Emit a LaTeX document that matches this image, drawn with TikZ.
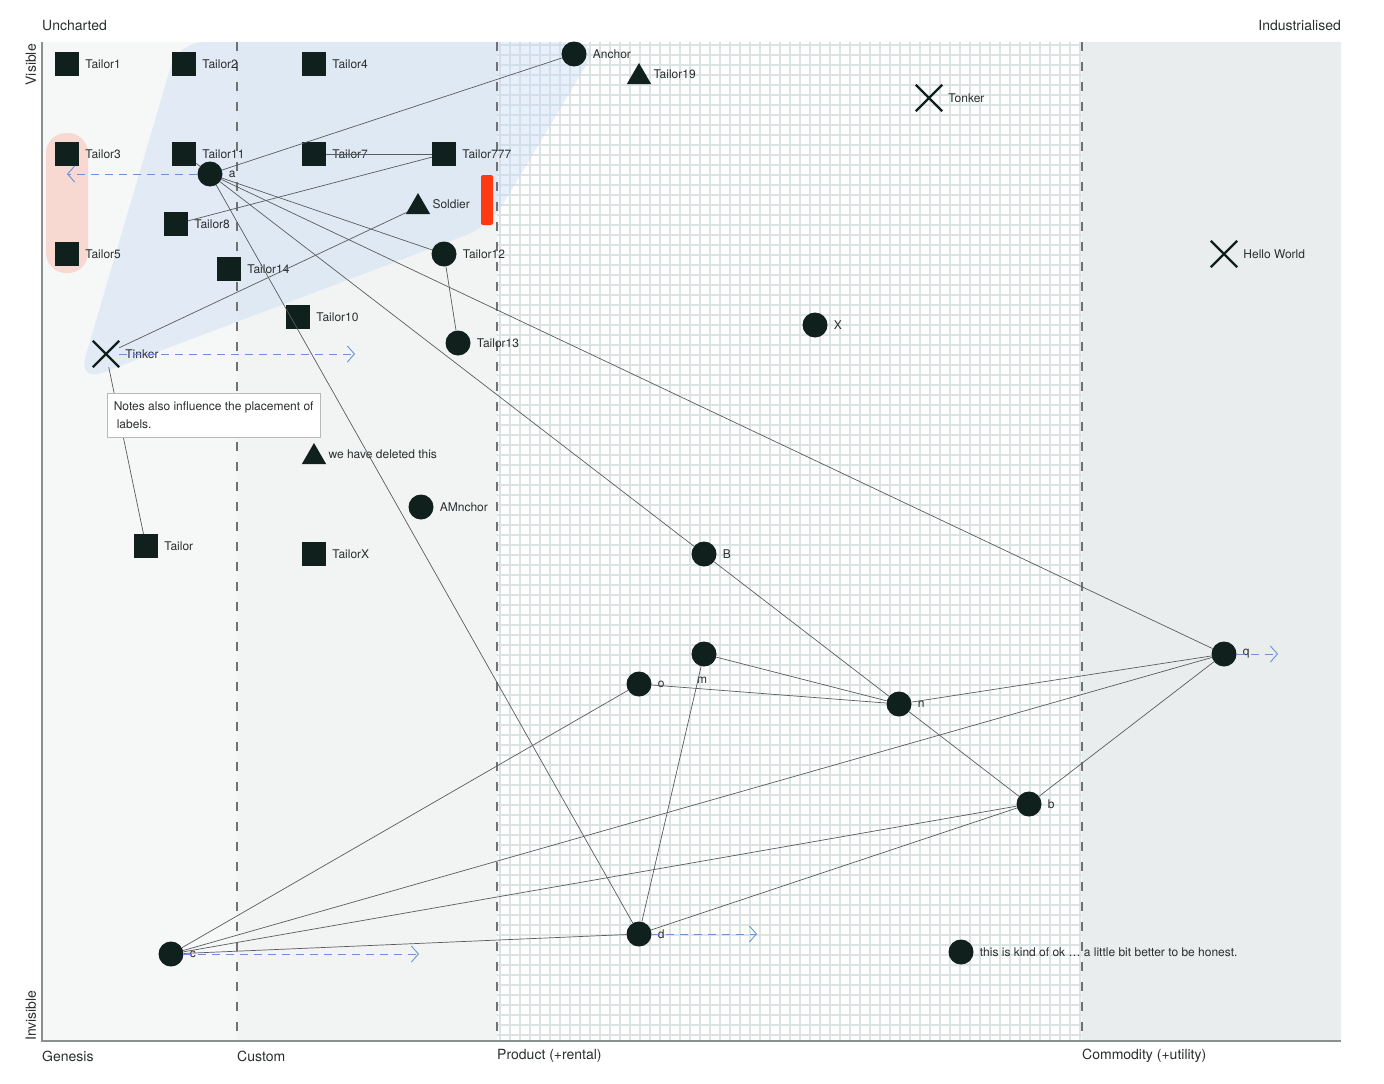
\documentclass[tikz,border=0pt]{standalone}
\usepackage{fontspec}
\setmainfont{TeX Gyre Heros}
\usepackage{xcolor}
\usetikzlibrary{shapes.geometric,shapes.misc,arrows.meta,positioning}

\definecolor{ink}{HTML}{10201C}
\definecolor{txt}{HTML}{2A2E2E}
\definecolor{axis}{HTML}{8A8F8F}
\definecolor{stage}{HTML}{6E7272}
\definecolor{link}{HTML}{585C5C}
\definecolor{evo}{HTML}{6A92D6}
\definecolor{gen}{HTML}{F6F7F7}
\definecolor{cus}{HTML}{F2F4F4}
\definecolor{prodgrid}{HTML}{DCE3E3}
\definecolor{com}{HTML}{EAEDED}
\definecolor{pipe}{HTML}{C6DAF4}
\definecolor{hilite}{HTML}{F9C5B8}
\definecolor{bar}{HTML}{FF3A12}

\begin{document}
\begin{tikzpicture}[x=1pt,y=-1pt,label distance=6pt]
  \tikzset{ sq/.style={rectangle,fill=ink,inner sep=0pt,minimum size=24},
    dot/.style={circle,fill=ink,inner sep=0pt,minimum size=25},
    tri/.style={regular polygon,regular polygon sides=3,fill=ink,inner sep=0pt,minimum size=28},
    crs/.style={cross out,draw=ink,line width=2.4pt,inner sep=0pt,minimum size=24},
    lbl/.style={font=\fontsize{12}{14}\selectfont,text=txt,inner sep=0pt},
    axlbl/.style={font=\fontsize{14}{16}\selectfont,text=txt,inner sep=0pt},
    lnk/.style={draw=link,line width=0.7pt},
    evolve/.style={draw=evo,line width=0.9pt,dash pattern=on 8pt off 6pt,
      -{Straight Barb[length=7pt,width=16pt]}},
  }
  \useasboundingbox (0,0) rectangle (1384,1084);

  % the four stages
  \fill[gen] (42,42) rectangle (237,1041);
  \fill[cus] (237,42) rectangle (497,1041);
  \fill[white] (497,42) rectangle (1082,1041);
  \foreach \gx in {500,510,...,1080} \draw[prodgrid,line width=2.2pt] (\gx,42) -- (\gx,1041);
  \foreach \gy in {45,55,...,1040} \draw[prodgrid,line width=2.2pt] (497,\gy) -- (1082,\gy);
  \fill[com] (1082,42) rectangle (1341,1041);

  % pipeline and highlight
  \fill[pipe,opacity=0.42,rounded corners=26] (178,42) -- (600,42) -- (490,226) -- (78,382) -- cycle;
  \fill[hilite,opacity=0.6,rounded corners=20] (46,133) rectangle (88,273);

  \draw[stage,line width=2pt,dash pattern=on 9pt off 11pt] (237,42) -- (237,1041);
  \draw[stage,line width=2pt,dash pattern=on 9pt off 11pt] (497,42) -- (497,1041);
  \draw[stage,line width=2pt,dash pattern=on 9pt off 11pt] (1082,42) -- (1082,1041);
  \draw[axis,line width=2pt] (42,42) -- (42,1041) -- (1341,1041);

  \node[axlbl,anchor=west] (uncharted) at (42,26) {Uncharted};
  \node[axlbl,anchor=east] (industrialised) at (1341,26) {Industrialised};
  \node[axlbl,anchor=east,rotate=90] (visible) at (31,44) {Visible};
  \node[axlbl,anchor=west,rotate=90] (invisible) at (31,1041) {Invisible};
  \node[axlbl,anchor=west] (genesis) at (42,1056) {Genesis};
  \node[axlbl,anchor=west] (custom) at (237,1056) {Custom};
  \node[axlbl,anchor=west] (product) at (497,1056) {Product (+rental)};
  \node[axlbl,anchor=west] (commodity) at (1082,1056) {Commodity (+utility)};

  \node[rectangle,fill=bar,rounded corners=2pt,minimum width=12,minimum height=50] (redbar) at (487,200) {};

  \node[sq,label={[lbl]right:Tailor1}] (tailor1) at (67,64) {};
  \node[sq,label={[lbl]right:Tailor2}] (tailor2) at (184,64) {};
  \node[sq,label={[lbl]right:Tailor4}] (tailor4) at (314,64) {};
  \node[sq,label={[lbl]right:Tailor3}] (tailor3) at (67,154) {};
  \node[sq,label={[lbl]right:Tailor11}] (tailor11) at (184,154) {};
  \node[sq,label={[lbl]right:Tailor7}] (tailor7) at (314,154) {};
  \node[sq,label={[lbl]right:Tailor777}] (tailor777) at (444,154) {};
  \node[sq,label={[lbl]right:Tailor8}] (tailor8) at (176,224) {};
  \node[sq,label={[lbl]right:Tailor5}] (tailor5) at (67,254) {};
  \node[sq,label={[lbl]right:Tailor14}] (tailor14) at (229,269) {};
  \node[sq,label={[lbl]right:Tailor10}] (tailor10) at (298,317) {};
  \node[sq,label={[lbl]right:Tailor}] (tailor) at (146,546) {};
  \node[sq,label={[lbl]right:TailorX}] (tailorx) at (314,554) {};

  \node[dot,label={[lbl]right:Anchor}] (anchor) at (574,54) {};
  \node[dot,label={[lbl]right:a}] (a) at (210,174) {};
  \node[dot,label={[lbl]right:Tailor12}] (tailor12) at (444,254) {};
  \node[dot,label={[lbl]right:Tailor13}] (tailor13) at (458,343) {};
  \node[dot,label={[lbl]right:X}] (x) at (815,325) {};
  \node[dot,label={[lbl]right:AMnchor}] (amnchor) at (421,507) {};
  \node[dot,label={[lbl]right:B}] (B) at (704,554) {};
  \node[dot,label={[lbl,yshift=-4pt,xshift=-2pt]below:m}] (m) at (704,654) {};
  \node[dot,label={[lbl]right:o}] (o) at (639,684) {};
  \node[dot,label={[lbl]right:n}] (n) at (899,704) {};
  \node[dot,label={[lbl]right:b}] (b) at (1029,804) {};
  \node[dot,label={[lbl]right:q}] (q) at (1224,654) {};
  \node[dot,label={[lbl]right:d}] (d) at (639,934) {};
  \node[dot,label={[lbl]right:c}] (c) at (171,954) {};
  \node[dot,label={[lbl]right:this is kind of ok … a little bit better to be honest.}] (ok) at (961,952) {};

  \node[tri,label={[lbl,yshift=3pt]right:Tailor19}] (tailor19) at (639,77) {};
  \node[tri,label={[lbl,yshift=3pt]right:Soldier}] (soldier) at (418,207) {};
  \node[tri,label={[lbl,yshift=3pt]right:we have deleted this}] (deleted) at (314,457) {};

  \node[crs,label={[lbl]right:Tonker}] (tonker) at (929,98) {};
  \node[crs,label={[lbl]right:Hello World}] (hello) at (1224,254) {};
  \node[crs,label={[lbl]right:Tinker}] (tinker) at (106,354) {};

  % dependencies
  \draw[lnk] (a) -- (anchor);
  \draw[lnk] (a) -- (tailor11);
  \draw[lnk] (a) -- (tailor12);
  \draw[lnk] (a) -- (q);
  \draw[lnk] (a) -- (B);
  \draw[lnk] (a) -- (d);
  \draw[lnk] (tailor7) -- (tailor777);
  \draw[lnk] (tailor8) -- (tailor777);
  \draw[lnk] (tinker) -- (soldier);
  \draw[lnk] (tinker) -- (tailor);
  \draw[lnk] (tailor12) -- (tailor13);
  \draw[lnk] (B) -- (n);
  \draw[lnk] (m) -- (n);
  \draw[lnk] (o) -- (n);
  \draw[lnk] (m) -- (d);
  \draw[lnk] (n) -- (q);
  \draw[lnk] (n) -- (b);
  \draw[lnk] (b) -- (q);
  \draw[lnk] (c) -- (o);
  \draw[lnk] (c) -- (q);
  \draw[lnk] (c) -- (b);
  \draw[lnk] (c) -- (d);
  \draw[lnk] (d) -- (b);

  % evolution
  \coordinate (a evo) at (67,174);
  \coordinate (tinker evo) at (355,354);
  \coordinate (q evo) at (1278,654);
  \coordinate (d evo) at (757,934);
  \coordinate (c evo) at (419,954);
  \draw[evolve] (a) -- (a evo);
  \draw[evolve] (tinker) -- (tinker evo);
  \draw[evolve] (q) -- (q evo);
  \draw[evolve] (d) -- (d evo);
  \draw[evolve] (c) -- (c evo);

  \node[draw=gray!55,fill=white,anchor=north west,minimum width=213,minimum height=44,
    inner xsep=5pt,inner ysep=3pt,align=left,text=txt,font=\fontsize{12}{18}\selectfont]
    (note) at (107,393) {Notes also influence the placement of\\\hspace{3pt}labels.};
\end{tikzpicture}
\end{document}
